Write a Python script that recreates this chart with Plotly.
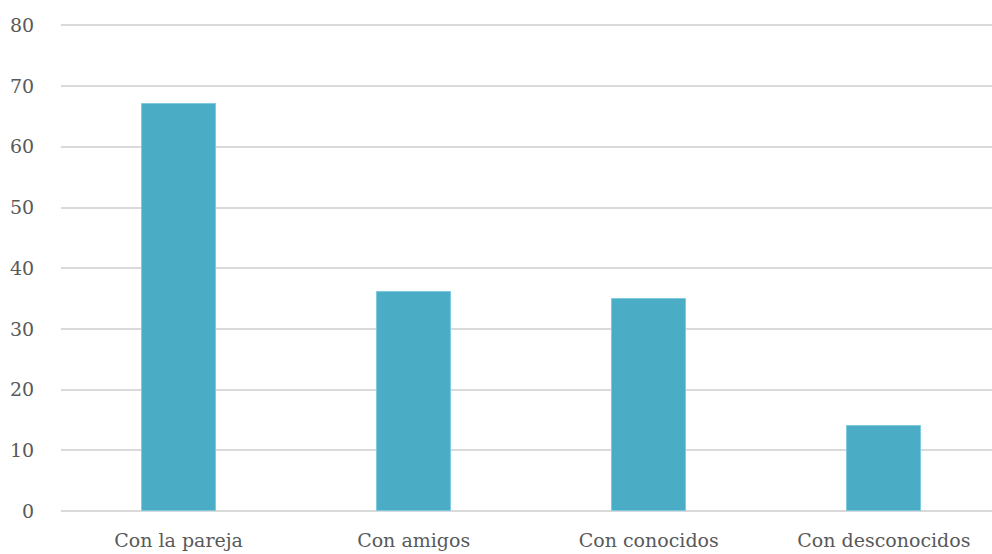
import plotly.graph_objects as go

categories = ["Con la pareja", "Con amigos", "Con conocidos", "Con desconocidos"]
values = [67, 36, 35, 14]
y_ticks = [0, 10, 20, 30, 40, 50, 60, 70, 80]

fig = go.Figure(go.Bar(
    x=categories, y=values,
    marker=dict(color="#4BACC6", line=dict(color="#7ccbe0", width=1)),
    width=0.315,
))

fig.update_layout(
    width=992, height=554,
    margin=dict(l=60.5, r=0, t=22.6, b=43),
    paper_bgcolor="white", plot_bgcolor="white",
    font=dict(family="DejaVu Serif, Liberation Serif, serif", size=19, color="#595959"),
    showlegend=False,
    bargap=0,
)
fig.update_xaxes(
    range=[-0.5, 3.46], showgrid=False, showline=False, zeroline=False,
    ticks="outside", ticklen=12, tickcolor="rgba(0,0,0,0)",
    tickfont=dict(size=19, color="#595959"),
)
fig.update_yaxes(
    range=[0, 80.4], tickvals=y_ticks, showgrid=True, gridcolor="#d9d9d9", gridwidth=1.5,
    zeroline=True, zerolinecolor="#d9d9d9", zerolinewidth=1.5, showline=False,
    ticks="outside", ticklen=22, tickcolor="rgba(0,0,0,0)",
    tickfont=dict(size=19, color="#595959"),
)

fig.write_html("out.html")
